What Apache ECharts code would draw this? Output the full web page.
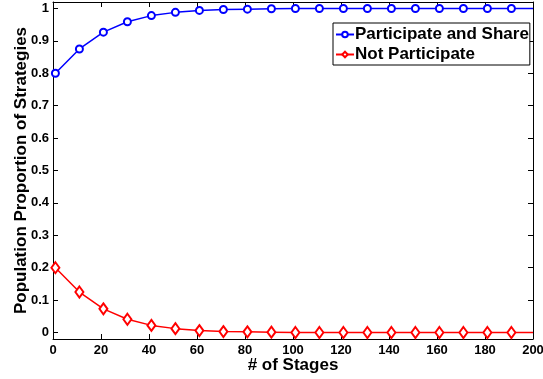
<!DOCTYPE html>
<html>
<head>
<meta charset="utf-8">
<script src="https://cdn.jsdelivr.net/npm/echarts@6/dist/echarts.min.js"></script>
<style>
  html, body { margin: 0; padding: 0; background: #fff; }
  #main { width: 543px; height: 379px; }
</style>
</head>
<body>
<div id="main"></div>
<script>
// stages where the values were sampled (last point only closes the line)
var stages = [1, 11, 21, 31, 41, 51, 61, 71, 81, 91, 101, 111, 121, 131, 141, 151, 161, 171, 181, 191, 200];
var shareVals = [0.8, 0.875, 0.927, 0.959, 0.978, 0.988, 0.994, 0.997, 0.998, 0.999, 1, 1, 1, 1, 1, 1, 1, 1, 1, 1, 1];
var notVals = [0.2, 0.125, 0.073, 0.041, 0.022, 0.012, 0.006, 0.003, 0.002, 0.001, 0, 0, 0, 0, 0, 0, 0, 0, 0, 0, 0];
var yTicks = [0, 0.1, 0.2, 0.3, 0.4, 0.5, 0.6, 0.7, 0.8, 0.9, 1];
var seriesNames = ['Participate and Share', 'Not Participate'];

var font = 'Liberation Sans, Arial, Helvetica, sans-serif';

function pairs(vals) {
  var out = [];
  for (var i = 0; i < stages.length; i++) {
    if (i == stages.length - 1) {
      out.push({ value: [stages[i], vals[i]], symbol: 'none' });
    } else {
      out.push([stages[i], vals[i]]);
    }
  }
  return out;
}

var tickStyle = { show: true, inside: true, length: 5, lineStyle: { color: '#000', width: 1 } };
var lineStyle = { show: true, onZero: false, lineStyle: { color: '#000', width: 1 } };
var nameFont = { fontFamily: font, fontWeight: 'bold', fontSize: 17, color: '#000' };

var myChart = echarts.init(document.getElementById('main'));
myChart.setOption({
  animation: false,
  backgroundColor: '#fff',
  grid: { left: 53, right: 10, top: 2, bottom: 40, outerBoundsMode: 'none', containLabel: false },
  legend: {
    data: seriesNames,
    orient: 'vertical',
    left: 333,
    top: 23,
    backgroundColor: '#fff',
    borderColor: '#000',
    borderWidth: 1,
    borderRadius: 0,
    padding: [3, 1, 2, 2],
    itemGap: 3,
    itemWidth: 18,
    itemHeight: 7,
    textStyle: { fontFamily: font, fontWeight: 'bold', fontSize: 17, color: '#000', padding: [0, 0, 0, -4] }
  },
  xAxis: [{
    type: 'value',
    min: 0, max: 200, interval: 20,
    name: '# of Stages',
    nameLocation: 'middle',
    nameGap: 18,
    nameMoveOverlap: false,
    nameTextStyle: nameFont,
    axisLine: lineStyle,
    axisTick: tickStyle,
    splitLine: { show: false },
    axisLabel: { fontFamily: font, fontWeight: 'bold', fontSize: 13, color: '#000', margin: 5 }
  }, {
    type: 'value',
    position: 'top',
    min: 0, max: 200, interval: 20,
    axisLine: lineStyle,
    axisTick: tickStyle,
    splitLine: { show: false },
    axisLabel: { show: false }
  }],
  yAxis: [{
    type: 'value',
    position: 'left',
    min: -0.02, max: 1.02,
    name: 'Population Proportion of Strategies',
    nameLocation: 'middle',
    nameGap: 23,
    nameMoveOverlap: false,
    nameTextStyle: nameFont,
    axisLine: lineStyle,
    axisTick: Object.assign({ customValues: yTicks }, tickStyle),
    splitLine: { show: false },
    axisLabel: {
      customValues: yTicks,
      fontFamily: font, fontWeight: 'bold', fontSize: 13, color: '#000', margin: 4,
      formatter: function (v) { return String(Math.round(v * 10) / 10); }
    }
  }, {
    type: 'value',
    position: 'right',
    min: -0.02, max: 1.02,
    axisLine: lineStyle,
    axisTick: Object.assign({ customValues: yTicks }, tickStyle),
    splitLine: { show: false },
    axisLabel: { show: false, customValues: yTicks }
  }],
  series: [{
    name: seriesNames[0],
    type: 'line',
    data: pairs(shareVals),
    symbol: 'emptyCircle',
    symbolSize: 7,
    color: '#0000ff',
    lineStyle: { width: 1.5, color: '#0000ff' },
    itemStyle: { color: '#0000ff', borderWidth: 1.5 },
    z: 3
  }, {
    name: seriesNames[1],
    type: 'line',
    data: pairs(notVals),
    symbol: 'emptyDiamond',
    symbolSize: [8, 11],
    color: '#ff0000',
    lineStyle: { width: 1.5, color: '#ff0000' },
    itemStyle: { color: '#ff0000', borderWidth: 1.5 },
    z: 3
  }]
});
</script>
</body>
</html>
